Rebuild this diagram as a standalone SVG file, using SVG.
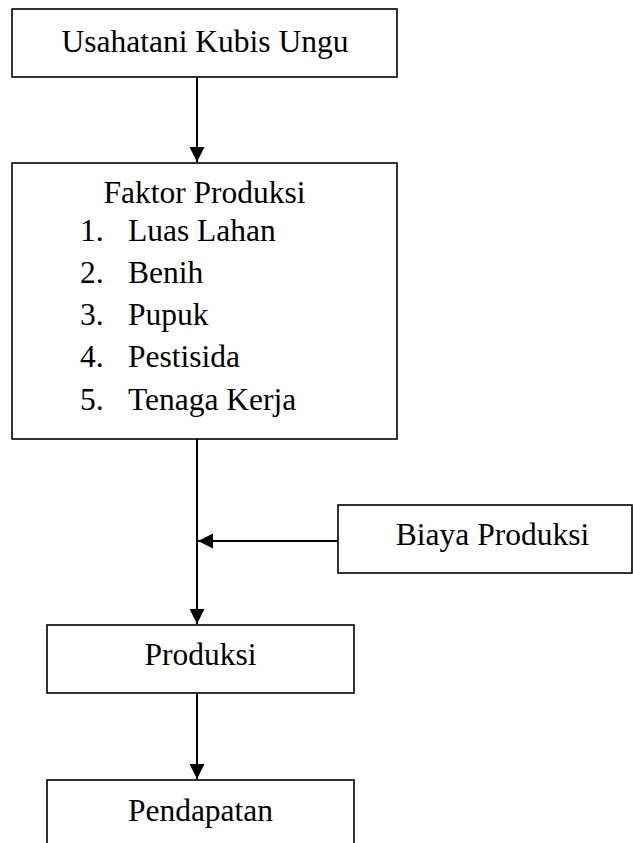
<svg xmlns="http://www.w3.org/2000/svg" width="633" height="843" viewBox="0 0 633 843">
<style>
.box{fill:#fff;stroke:#000;stroke-width:1.6}
.t{font-family:"Liberation Serif","Times New Roman",serif;font-size:31.5px;fill:#000}
.c{text-anchor:middle}
.ln{stroke:#000;stroke-width:2;fill:none}
</style>
<defs>
<marker id="ah" viewBox="0 0 10 10" refX="10" refY="5" markerWidth="7.5" markerHeight="7.5" markerUnits="strokeWidth" orient="auto">
<path d="M0,0 L10,5 L0,10 Z" fill="#000"/>
</marker>
</defs>
<rect width="633" height="843" fill="#fff"/>
<g id="connectors">
<line class="ln" x1="197" y1="77" x2="197" y2="162" marker-end="url(#ah)"/>
<line class="ln" x1="197" y1="439" x2="197" y2="624" marker-end="url(#ah)"/>
<line class="ln" x1="338" y1="541" x2="198" y2="541" marker-end="url(#ah)"/>
<line class="ln" x1="197" y1="693" x2="197" y2="779" marker-end="url(#ah)"/>
</g>
<g id="n1">
<rect class="box" x="12" y="9" width="385" height="68"/>
<text class="t c" x="205" y="52">Usahatani Kubis Ungu</text>
</g>
<g id="n2">
<rect class="box" x="12" y="163" width="385" height="276"/>
<text class="t c" x="204.5" y="203">Faktor Produksi</text>
<text class="t" x="80" y="240.5">1.</text><text class="t" x="128" y="240.5">Luas Lahan</text>
<text class="t" x="80" y="282.8">2.</text><text class="t" x="128" y="282.8">Benih</text>
<text class="t" x="80" y="325">3.</text><text class="t" x="128" y="325">Pupuk</text>
<text class="t" x="80" y="367.3">4.</text><text class="t" x="128" y="367.3">Pestisida</text>
<text class="t" x="80" y="409.5">5.</text><text class="t" x="128" y="409.5">Tenaga Kerja</text>
</g>
<g id="n3">
<rect class="box" x="338" y="505" width="294" height="68"/>
<text class="t c" x="492.5" y="545">Biaya Produksi</text>
</g>
<g id="n4">
<rect class="box" x="47" y="625" width="307" height="68"/>
<text class="t c" x="200.5" y="665">Produksi</text>
</g>
<g id="n5">
<rect class="box" x="47" y="780" width="307" height="80"/>
<text class="t c" x="200.5" y="821">Pendapatan</text>
</g>
</svg>
